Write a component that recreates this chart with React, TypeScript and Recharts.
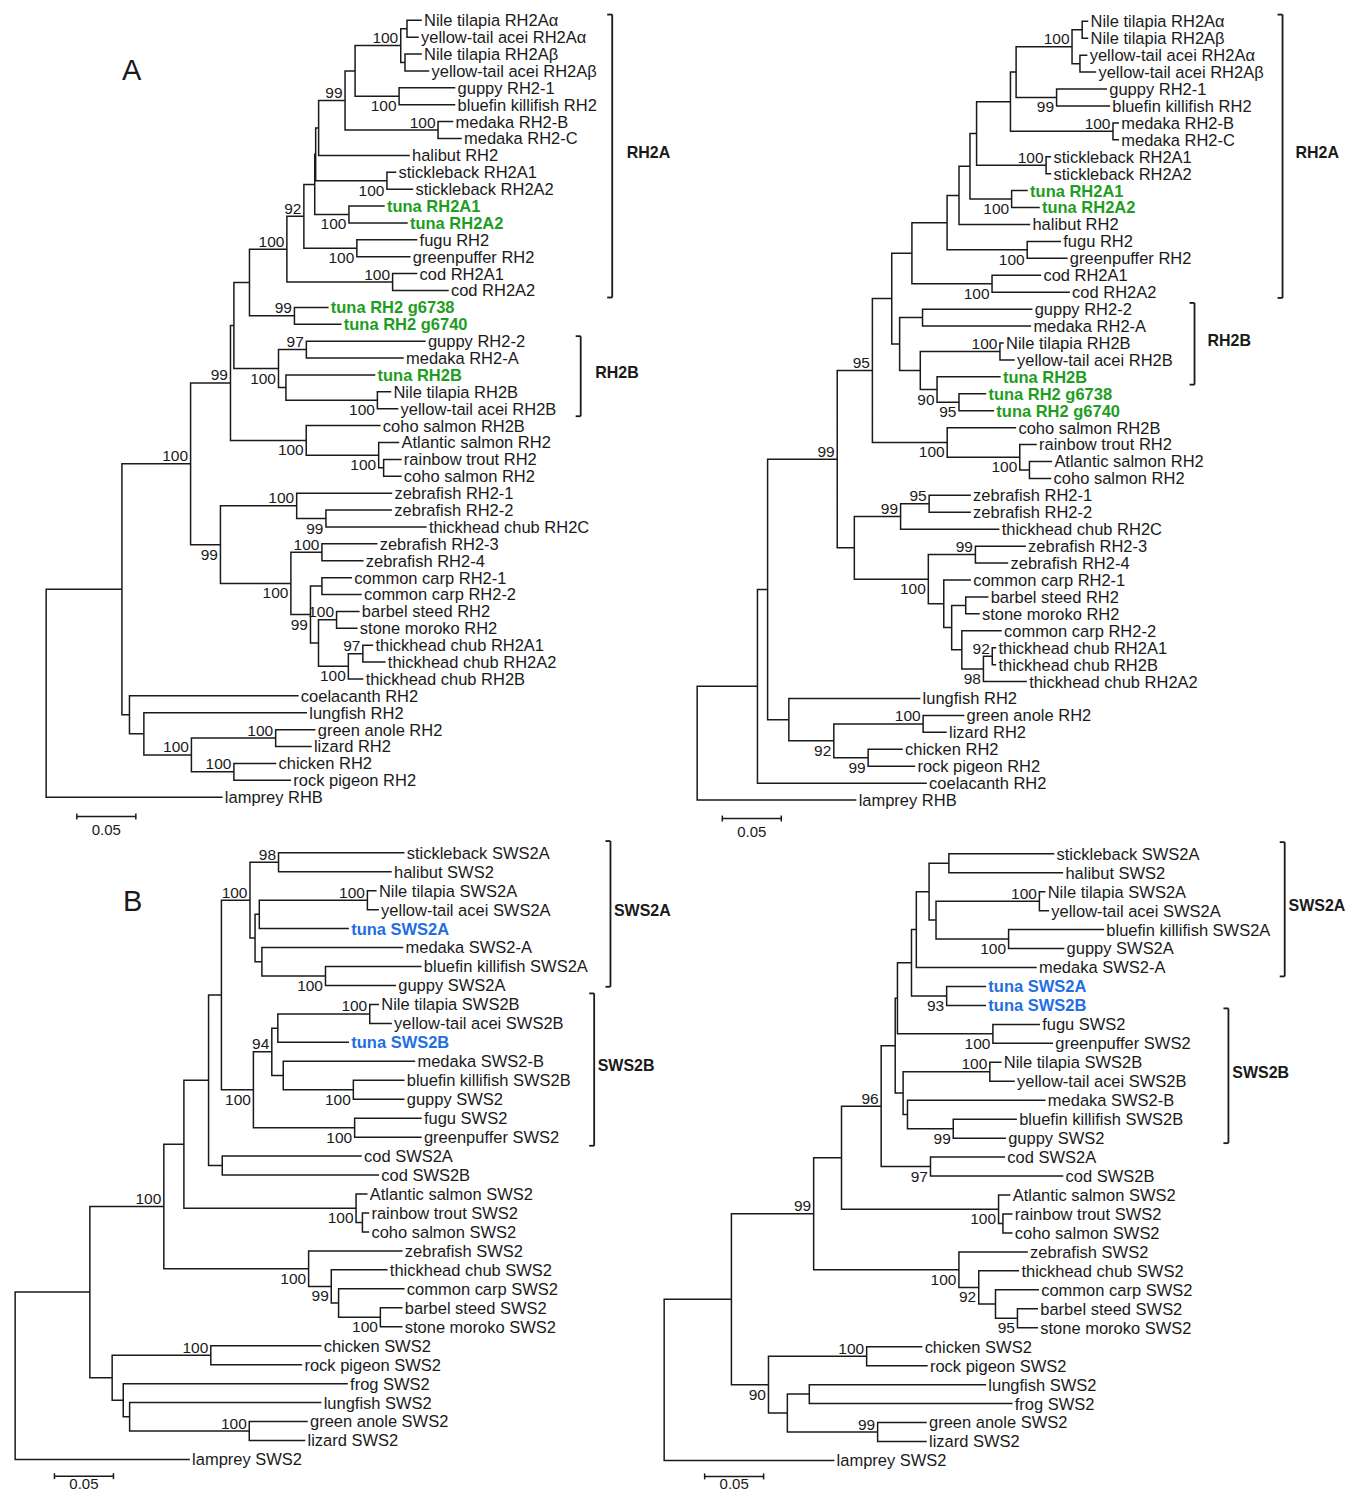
import React from "react";
import { ComposedChart, Line, Scatter, XAxis, YAxis, ReferenceLine } from "recharts";

// ---- trees as Newick: branch length = substitutions/site, node label = bootstrap % ----
const rh2TreeLeft =
  "(((((((((((((((Nile tilapia RH2Aα:0.0119,yellow-tail acei RH2Aα:0.0093):0.0053,(Nile tilapia RH2Aβ:0.0136,yellow-tail acei RH2Aβ:0.0199):0.0036)100:0.0387,(guppy RH2-1:0.047,bluefin killifish RH2:0.047)100:0.0373):0.0085,(medaka RH2-B:0.0123,medaka RH2-C:0.0195)100:0.0788)99:0.0224,halibut RH2:0.0766):0.0025,(stickleback RH2A1:0.0073,stickleback RH2A2:0.0216)100:0.0604):0.0008,(tuna RH2A1:0.0297,tuna RH2A2:0.0492)100:0.029):0.0092,(fugu RH2:0.0506,greenpuffer RH2:0.0449)100:0.0449)92:0.0144,(cod RH2A1:0.0203,cod RH2A2:0.0469)100:0.0896)100:0.0317,(tuna RH2 g6738:0.0283,tuna RH2 g6740:0.0393)99:0.0381):0.0132,((guppy RH2-2:0.1005,medaka RH2-A:0.0819)97:0.0236,(tuna RH2B:0.0751,(Nile tilapia RH2B:0.0111,yellow-tail acei RH2B:0.0171)100:0.0775):0.0063)100:0.0378):0.0029,(coho salmon RH2B:0.0624,(Atlantic salmon RH2:0.0168,(rainbow trout RH2:0.0146,coho salmon RH2:0.0146):0.0042)100:0.0614)100:0.0642)99:0.0338,((zebrafish RH2-1:0.0803,(zebrafish RH2-2:0.0554,thickhead chub RH2C:0.0847)99:0.0248)100:0.0646,((zebrafish RH2-3:0.0464,zebrafish RH2-4:0.0346)100:0.0263,((common carp RH2-1:0.0249,common carp RH2-2:0.0331):0.0097,((barbel steed RH2:0.0189,stone moroko RH2:0.0172)100:0.0153,((thickhead chub RH2A1:0.0081,thickhead chub RH2A2:0.0186)97:0.0123,thickhead chub RH2B:0.0121)100:0.0253):0.0068)99:0.0166)100:0.0597)99:0.0253)100:0.0582,(coelacanth RH2:0.1427,(lungfish RH2:0.1376,((green anole RH2:0.0331,lizard RH2:0.0299)100:0.0714,(chicken RH2:0.0353,rock pigeon RH2:0.0478)100:0.036)100:0.0403):0.0122):0.0064):0.0642,lamprey RHB:0.1489);";

const rh2TreeRight =
  "(((((((((((((((Nile tilapia RH2Aα:0.0045,Nile tilapia RH2Aβ:0.0045):0.0086,(yellow-tail acei RH2Aα:0.0057,yellow-tail acei RH2Aβ:0.0131):0.0067)100:0.0474,(guppy RH2-1:0.0421,bluefin killifish RH2:0.0447)99:0.0343):0.0048,(medaka RH2-B:0.0045,medaka RH2-C:0.0045)100:0.0869):0.0287,(stickleback RH2A1:0.0037,stickleback RH2A2:0.0037)100:0.0589):0.0056,(tuna RH2A1:0.0131,tuna RH2A2:0.0232)100:0.0353):0.0093,halibut RH2:0.0597):0.0101,(fugu RH2:0.028,greenpuffer RH2:0.0336)100:0.0679):0.0298,(cod RH2A1:0.041,cod RH2A2:0.0653)100:0.0679):0.0171,((guppy RH2-2:0.0925,medaka RH2-A:0.0914):0.0194,((Nile tilapia RH2B:0.0026,yellow-tail acei RH2B:0.0119)100:0.0675,(tuna RH2B:0.0533,(tuna RH2 g6738:0.0224,tuna RH2 g6740:0.0291)95:0.0186)90:0.0142):0.0175):0.0067):0.0164,(coho salmon RH2B:0.0578,(rainbow trout RH2:0.0138,(Atlantic salmon RH2:0.0186,coho salmon RH2:0.0179):0.0082)100:0.0615)100:0.0634)95:0.0298,(((zebrafish RH2-1:0.0347,zebrafish RH2-2:0.0347)95:0.0242,thickhead chub RH2C:0.0831)99:0.0392,((zebrafish RH2-3:0.0421,zebrafish RH2-4:0.0272)99:0.0399,(common carp RH2-1:0.0224,((barbel steed RH2:0.0186,stone moroko RH2:0.0112):0.0119,(common carp RH2-2:0.0332,((thickhead chub RH2A1:0.0027,thickhead chub RH2B:0.0027)92:0.0075,thickhead chub RH2A2:0.0362)98:0.0183):0.0086):0.0067):0.0131)100:0.0627):0.0145)99:0.059,(lungfish RH2:0.1108,((green anole RH2:0.0343,lizard RH2:0.0194)100:0.0757,(chicken RH2:0.0287,rock pigeon RH2:0.0392)99:0.0291)92:0.0381):0.018):0.0086,coelacanth RH2:0.1429):0.0511,lamprey RHB:0.1343);";

const sws2TreeLeft =
  "((((((((stickleback SWS2A:0.1061,halibut SWS2:0.0953)98:0.0242,(((Nile tilapia SWS2A:0.0072,yellow-tail acei SWS2A:0.0091)100:0.0916,tuna SWS2A:0.0753):0.0036,(medaka SWS2-A:0.1192,(bluefin killifish SWS2A:0.0808,guppy SWS2A:0.0591)100:0.0539):0.0058):0.0043)100:0.0242,((((Nile tilapia SWS2B:0.0072,yellow-tail acei SWS2B:0.0181)100:0.0779,tuna SWS2B:0.0597):0.0051,(medaka SWS2-B:0.1112,(bluefin killifish SWS2B:0.0427,guppy SWS2:0.0427)100:0.0594):0.0097)94:0.0156,(fugu SWS2:0.0562,greenpuffer SWS2:0.0562)100:0.0858)100:0.0271):0.0109,(cod SWS2A:0.1176,cod SWS2B:0.1322):0.0116):0.0209,(Atlantic salmon SWS2:0.0091,(rainbow trout SWS2:0.0051,coho salmon SWS2:0.0051):0.0054)100:0.1459):0.017,(zebrafish SWS2:0.079,(thickhead chub SWS2:0.0471,(common carp SWS2:0.0553,(barbel steed SWS2:0.0181,stone moroko SWS2:0.0181)100:0.0354):0.0062)99:0.0192)100:0.1227)100:0.0627,((chicken SWS2:0.0931,rock pigeon SWS2:0.0768)100:0.0836,(frog SWS2:0.1897,(lungfish SWS2:0.1619,(green anole SWS2:0.0489,lizard SWS2:0.0468)100:0.1014):0.0054):0.0094):0.0189):0.0633,lamprey SWS2:0.1474);";

const sws2TreeRight =
  "(((((((((((stickleback SWS2A:0.0887,halibut SWS2:0.0962):0.0168,((Nile tilapia SWS2A:0.0045,yellow-tail acei SWS2A:0.0075)100:0.0876,(bluefin killifish SWS2A:0.0803,guppy SWS2A:0.0466)100:0.0615):0.0059):0.0108,medaka SWS2-A:0.1014):0.0041,(tuna SWS2A:0.0328,tuna SWS2B:0.0328)93:0.0298):0.0119,(fugu SWS2:0.0392,greenpuffer SWS2:0.0503)100:0.0809):0.0019,((Nile tilapia SWS2B:0.0093,yellow-tail acei SWS2B:0.0205)100:0.0735,(medaka SWS2-B:0.1164,(bluefin killifish SWS2B:0.0533,guppy SWS2:0.044)99:0.0388):0.0037):0.0067):0.0119,(cod SWS2A:0.0626,cod SWS2B:0.1119)97:0.0418)96:0.0336,(Atlantic salmon SWS2:0.0094,(rainbow trout SWS2:0.0075,coho salmon SWS2:0.0075):0.0037)100:0.1331):0.0236,(zebrafish SWS2:0.0578,(thickhead chub SWS2:0.0336,(common carp SWS2:0.0362,(barbel steed SWS2:0.0168,stone moroko SWS2:0.0168)95:0.0186):0.0142)92:0.0168)100:0.1231)99:0.0697,((chicken SWS2:0.0466,rock pigeon SWS2:0.0511)100:0.0832,((lungfish SWS2:0.1492,frog SWS2:0.1716):0.0186,(green anole SWS2:0.041,lizard SWS2:0.041)99:0.0765):0.016)90:0.0314):0.057,lamprey SWS2:0.1436);";

// clade brackets (first and last leaf covered)
type Bracket = { label: string; from: string; to: string };
const rh2BracketsLeft: Bracket[] = [
  { label: "RH2A", from: "Nile tilapia RH2Aα", to: "cod RH2A2" },
  { label: "RH2B", from: "guppy RH2-2", to: "yellow-tail acei RH2B" },
];
const rh2BracketsRight: Bracket[] = [
  { label: "RH2A", from: "Nile tilapia RH2Aα", to: "cod RH2A2" },
  { label: "RH2B", from: "guppy RH2-2", to: "tuna RH2B" },
];
const sws2BracketsLeft: Bracket[] = [
  { label: "SWS2A", from: "stickleback SWS2A", to: "guppy SWS2A" },
  { label: "SWS2B", from: "Nile tilapia SWS2B", to: "greenpuffer SWS2" },
];
const sws2BracketsRight: Bracket[] = [
  { label: "SWS2A", from: "stickleback SWS2A", to: "medaka SWS2-A" },
  { label: "SWS2B", from: "fugu SWS2", to: "guppy SWS2" },
];

const scaleBarLength = 0.05;
const scaleBarText = "0.05";

// ---- styles / layout ----
const FONT = '"Liberation Sans", Arial, Helvetica, sans-serif';
const INK = "#1a1a1a";
const GREEN = "#1f9d1f";
const BLUE = "#1f6fe3";
const PX = 1180; // px per substitution/site (0.05 = 59 px)

type PanelCfg = {
  tree: string;
  brackets: Bracket[];
  bootSide: string; // a = above the branch, b = below, in Newick order
  rootX: number;
  firstY: number;
  step: number;
  xMax: number;
  tint: string;
  bracketX: number[];
  bracketPad: [number, number][];
  bracketDx: number;
  scaleX: number;
  scaleDy: number;
  scaleTextDy: number;
};

const panels: PanelCfg[] = [
  {
    tree: rh2TreeLeft, brackets: rh2BracketsLeft, bootSide: "abaabbbaaaaabbbbabaaaabbbbaaaa",
    rootX: 46.3, firstY: 20.7, step: 16.89, xMax: 0.56, tint: GREEN,
    bracketX: [0.4797, 0.453], bracketPad: [[5.7, 7], [5, 7.5]], bracketDx: 14.5,
    scaleX: 0.026, scaleDy: 1.14, scaleTextDy: 18.5,
  },
  {
    tree: rh2TreeRight, brackets: rh2BracketsRight, bootSide: "abaabbbabbbbaaaaabbaabb",
    rootX: 697.4, firstY: 21.7, step: 16.93, xMax: 0.553, tint: GREEN,
    bracketX: [0.4961, 0.4215], bracketPad: [[6.7, 5.7], [6.2, 7.8]], bracketDx: 13,
    scaleX: 0.0213, scaleDy: 1.09, scaleTextDy: 18.5,
  },
  {
    tree: sws2TreeLeft, brackets: sws2BracketsLeft, bootSide: "aabaababbbbbbaaa",
    rootX: 15, firstY: 852.7, step: 18.96, xMax: 0.57, tint: BLUE,
    bracketX: [0.5045, 0.4907], bracketPad: [[11.7, 1.3], [11, 8.6]], bracketDx: 3.5,
    scaleX: 0.0333, scaleDy: 0.88, scaleTextDy: 12.5,
  },
  {
    tree: sws2TreeRight, brackets: sws2BracketsRight, bootSide: "abbbabbabbbbaaab",
    rootX: 664.4, firstY: 853.3, step: 18.96, xMax: 0.581, tint: BLUE,
    bracketX: [0.5259, 0.4782], bracketPad: [[11.6, 8.9], [16, 5]], bracketDx: 3.8,
    scaleX: 0.0343, scaleDy: 0.84, scaleTextDy: 12.5,
  },
];

// ---- tree helpers ----
type TNode = { name: string; len: number; boot?: string; children: TNode[]; x: number; y: number };

function parseNewick(src: string) {
  let i = 0;
  const labelled: TNode[] = [];
  const readUntil = (stop: string) => {
    let s = "";
    while (i < src.length && !stop.includes(src[i])) s += src[i++];
    return s.trim();
  };
  const node = (): TNode => {
    const n: TNode = { name: "", len: 0, children: [], x: 0, y: 0 };
    if (src[i] === "(") {
      i++;
      n.children.push(node());
      while (src[i] === ",") {
        i++;
        n.children.push(node());
      }
      i++; // ')'
    }
    const name = readUntil(",():;");
    if (n.children.length) {
      if (name) {
        n.boot = name;
        labelled.push(n);
      }
    } else n.name = name;
    if (src[i] === ":") {
      i++;
      n.len = parseFloat(readUntil(",();"));
    }
    return n;
  };
  return { root: node(), labelled };
}

function layoutTree(root: TNode) {
  const leaves: TNode[] = [];
  const walk = (n: TNode, x: number) => {
    n.x = x;
    if (!n.children.length) {
      n.y = leaves.length;
      leaves.push(n);
      return;
    }
    n.children.forEach((c) => walk(c, x + c.len));
    n.y = (n.children[0].y + n.children[n.children.length - 1].y) / 2;
  };
  walk(root, 0);
  return leaves;
}

// elbow branches as one broken polyline
function branchPoints(root: TNode) {
  const pts: { x: number; y: number | null }[] = [];
  const seg = (x1: number, y1: number, x2: number, y2: number) => {
    pts.push({ x: x1, y: y1 }, { x: x2, y: y2 }, { x: x2, y: null });
  };
  const walk = (n: TNode) => {
    if (!n.children.length) return;
    const a = n.children[0];
    const b = n.children[n.children.length - 1];
    seg(n.x, a.y, n.x, b.y);
    n.children.forEach((c) => {
      seg(n.x, c.y, c.x, c.y);
      walk(c);
    });
  };
  walk(root);
  return pts;
}

const TreePanel: React.FC<{ cfg: PanelCfg }> = ({ cfg }) => {
  const { root, labelled } = parseNewick(cfg.tree);
  const leaves = layoutTree(root);
  const n = leaves.length;
  const xMin = -0.012;
  const yMin = -1.2;
  const yMax = n - 1 + 2.6;
  const width = (cfg.xMax - xMin) * PX;
  const height = (yMax - yMin) * cfg.step;
  const left = cfg.rootX + xMin * PX;
  const top = cfg.firstY + yMin * cfg.step;

  const branches = branchPoints(root);
  const leafPts = leaves.map((l) => ({ x: l.x, y: l.y, name: l.name }));
  const bootPts = labelled.map((nd, i) => ({
    x: nd.x,
    y: nd.y,
    text: nd.boot,
    below: cfg.bootSide[i] === "b",
  }));
  const idx = (name: string) => leaves.findIndex((l) => l.name === name);
  const tick = 5 / PX;
  const brk = cfg.brackets.map((b, i) => ({
    label: b.label,
    x: cfg.bracketX[i],
    y1: idx(b.from) - cfg.bracketPad[i][0] / cfg.step,
    y2: idx(b.to) + cfg.bracketPad[i][1] / cfg.step,
  }));
  const bracketLabels = brk.map((b) => ({ x: b.x, y: (b.y1 + b.y2) / 2, text: b.label }));
  const sy = n - 1 + cfg.scaleDy;
  const sx = cfg.scaleX;
  const stickY = 3 / cfg.step;
  const scaleLabel = [{ x: sx + scaleBarLength / 2, y: sy, text: scaleBarText }];

  return (
    <div style={{ position: "absolute", left, top }}>
      <ComposedChart width={width} height={height} margin={{ top: 0, right: 0, bottom: 0, left: 0 }}>
        <XAxis dataKey="x" type="number" domain={[xMin, cfg.xMax]} hide allowDataOverflow />
        <YAxis dataKey="y" type="number" domain={[yMin, yMax]} reversed hide allowDataOverflow />
        <Line
          data={branches}
          dataKey="y"
          stroke={INK}
          strokeWidth={1.5}
          strokeLinecap="square"
          dot={false}
          activeDot={false}
          connectNulls={false}
          isAnimationActive={false}
        />
        {brk.map((b) => (
          <ReferenceLine key={b.label} segment={[{ x: b.x, y: b.y1 }, { x: b.x, y: b.y2 }]} stroke={INK} strokeWidth={1.8} />
        ))}
        {brk.map((b) => (
          <ReferenceLine key={b.label + "t"} segment={[{ x: b.x - tick, y: b.y1 }, { x: b.x, y: b.y1 }]} stroke={INK} strokeWidth={1.8} />
        ))}
        {brk.map((b) => (
          <ReferenceLine key={b.label + "b"} segment={[{ x: b.x - tick, y: b.y2 }, { x: b.x, y: b.y2 }]} stroke={INK} strokeWidth={1.8} />
        ))}
        <ReferenceLine segment={[{ x: sx, y: sy }, { x: sx + scaleBarLength, y: sy }]} stroke={INK} strokeWidth={1.5} />
        <ReferenceLine segment={[{ x: sx, y: sy - stickY }, { x: sx, y: sy + stickY }]} stroke={INK} strokeWidth={1.5} />
        <ReferenceLine
          segment={[{ x: sx + scaleBarLength, y: sy - stickY }, { x: sx + scaleBarLength, y: sy + stickY }]}
          stroke={INK}
          strokeWidth={1.5}
        />
        <Scatter
          data={leafPts}
          isAnimationActive={false}
          shape={(p: any) => {
            const hi = p.payload.name.startsWith("tuna");
            return (
              <text
                x={p.cx + 3}
                y={p.cy}
                dy="0.36em"
                fontSize={16.5}
                fontFamily={FONT}
                fontWeight={hi ? 700 : 400}
                fill={hi ? cfg.tint : INK}
              >
                {p.payload.name}
              </text>
            );
          }}
        />
        <Scatter
          data={bootPts}
          isAnimationActive={false}
          shape={(p: any) => (
            <text
              x={p.cx - 2.5}
              y={p.payload.below ? p.cy + 15 : p.cy - 2.5}
              textAnchor="end"
              fontSize={15.5}
              fontFamily={FONT}
              fill={INK}
            >
              {p.payload.text}
            </text>
          )}
        />
        <Scatter
          data={bracketLabels}
          isAnimationActive={false}
          shape={(p: any) => (
            <text
              x={p.cx + cfg.bracketDx}
              y={p.cy - 4}
              dy="0.36em"
              fontSize={16}
              fontWeight={700}
              fontFamily={FONT}
              fill={INK}
            >
              {p.payload.text}
            </text>
          )}
        />
        <Scatter
          data={scaleLabel}
          isAnimationActive={false}
          shape={(p: any) => (
            <text x={p.cx} y={p.cy + cfg.scaleTextDy} textAnchor="middle" fontSize={15} fontFamily={FONT} fill={INK}>
              {p.payload.text}
            </text>
          )}
        />
      </ComposedChart>
    </div>
  );
};

const letterStyle: React.CSSProperties = {
  position: "absolute",
  fontFamily: FONT,
  fontSize: 29,
  lineHeight: "29px",
  color: INK,
};

const App: React.FC = () => {
  return (
    <div
      style={{
        position: "absolute",
        left: 0,
        top: 0,
        width: 1350,
        height: 1493,
        overflow: "hidden",
        background: "#fff",
      }}
    >
      {panels.map((cfg, i) => (
        <TreePanel key={i} cfg={cfg} />
      ))}
      <div style={{ ...letterStyle, left: 122, top: 56 }}>A</div>
      <div style={{ ...letterStyle, left: 123, top: 887 }}>B</div>
    </div>
  );
};

export default App;
